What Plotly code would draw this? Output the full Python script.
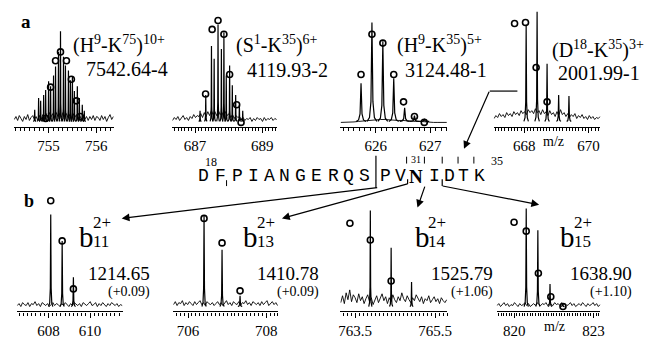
import numpy as np
import plotly.graph_objects as go

W, H = 651, 339

# ---------------- DATA ----------------
# Panel a1: (H9-K75)10+
p1_mz = [754.708, 754.79, 754.833, 754.896, 754.938, 755.0, 755.042, 755.104, 755.146, 755.208, 755.25,
         755.313, 755.354, 755.417, 755.458, 755.5, 755.542, 755.604, 755.646, 755.708, 755.75]
p1_int = [0.13, 0.25, 0.22, 0.28, 0.33, 0.42, 0.37, 0.48, 0.57, 0.72, 0.93,
          0.67, 0.58, 0.53, 0.43, 0.47, 0.32, 0.37, 0.25, 0.18, 0.12]
p1_iso_mz = [754.938, 755.042, 755.146, 755.25, 755.375, 755.479, 755.583, 755.667]
p1_iso_int = [0.04, 0.36, 0.63, 0.72, 0.63, 0.44, 0.22, 0.06]
p1_noise = [0.03, 0.06, 0.02, 0.07, 0.04, 0.01, 0.06, 0.03, 0.08, 0.02, 0.05, 0.07, 0.03, 0.06, 0.02, 0.07,
            0.03, 0.08, 0.04, 0.09, 0.05, 0.10, 0.06, 0.09, 0.05, 0.10, 0.06, 0.09, 0.05, 0.10, 0.06, 0.09,
            0.05, 0.08, 0.04, 0.09, 0.05, 0.08, 0.04, 0.07, 0.03, 0.07, 0.03, 0.06, 0.02, 0.06, 0.03, 0.07,
            0.02, 0.06, 0.05, 0.02, 0.07, 0.03, 0.06, 0.01, 0.05, 0.08, 0.03, 0.06]

# Panel a2: (S1-K35)6+
p2_mz = [687.15, 687.32, 687.49, 687.57, 687.685, 687.785, 687.86, 687.93, 688.03, 688.11, 688.21, 688.32, 688.42]
p2_int = [0.12, 0.28, 0.78, 0.65, 1.0, 0.75, 0.92, 0.48, 0.58, 0.38, 0.28, 0.18, 0.12]
p2_iso_mz = [687.315, 687.51, 687.685, 687.86, 688.03, 688.24, 688.37]
p2_iso_int = [0.29, 0.95, 1.04, 0.90, 0.49, 0.18, 0.0]
p2_noise = [0.02, 0.05, 0.03, 0.06, 0.02, 0.04, 0.07, 0.03, 0.05, 0.02, 0.06, 0.04, 0.08, 0.05, 0.07, 0.06,
            0.09, 0.05, 0.10, 0.06, 0.11, 0.07, 0.12, 0.08, 0.11, 0.07, 0.12, 0.08, 0.10, 0.06, 0.11, 0.07,
            0.09, 0.05, 0.08, 0.04, 0.07, 0.05, 0.06, 0.03, 0.05, 0.02, 0.04, 0.03, 0.05, 0.01, 0.04, 0.02,
            0.05, 0.03, 0.04, 0.01, 0.05, 0.02, 0.04, 0.03, 0.05, 0.02, 0.04, 0.03]

# Panel a3: (H9-K35)5+
p3_mz = [625.73, 625.93, 626.13, 626.33, 626.53, 626.71, 626.89]
p3_int = [0.40, 1.02, 0.83, 0.45, 0.15, 0.07, 0.03]
p3_iso_mz = [625.73, 625.93, 626.13, 626.33, 626.51, 626.71, 626.89]
p3_iso_int = [0.49, 0.90, 0.81, 0.49, 0.21, 0.06, 0.0]
p3_noise = [0.0, 0.0, 0.0, 0.005, 0.01, 0.015, 0.02, 0.025, 0.03, 0.03, 0.03, 0.025, 0.025,
            0.02, 0.02, 0.015, 0.015, 0.01, 0.01, 0.005, 0.005, 0.0, 0.0, 0.0, 0.0]

# Panel a4: (D18-K35)3+
p4_mz = [668.06, 668.40, 668.71, 669.07, 669.39]
p4_int = [1.0, 1.13, 0.60, 0.28, 0.27]
p4_iso_mz = [667.70, 668.04, 668.37, 668.71]
p4_iso_int = [1.01, 1.02, 0.56, 0.21]
p4_noise = [0.04, 0.07, 0.05, 0.09, 0.06, 0.08, 0.05, 0.10, 0.07, 0.09, 0.06, 0.11, 0.08, 0.10, 0.07, 0.12,
            0.09, 0.11, 0.08, 0.13, 0.10, 0.12, 0.09, 0.14, 0.10, 0.12, 0.08, 0.13, 0.09, 0.11, 0.07, 0.12,
            0.08, 0.10, 0.06, 0.11, 0.07, 0.13, 0.08, 0.10, 0.06, 0.09, 0.05, 0.08, 0.06, 0.09, 0.04, 0.07,
            0.05, 0.08, 0.04, 0.06, 0.03, 0.07, 0.04, 0.06, 0.03, 0.05, 0.04, 0.06]

# Panel b1: b11 2+
p5_mz = [608.11, 608.66, 609.20]
p5_int = [0.95, 0.68, 0.31]
p5_iso_mz = [608.11, 608.66, 609.20]
p5_iso_int = [1.09, 0.68, 0.19]
p5_noise = [0.02, 0.04, 0.01, 0.05, 0.03, 0.02, 0.05, 0.01, 0.04, 0.03, 0.06, 0.02, 0.04, 0.01, 0.05, 0.03,
            0.02, 0.04, 0.01, 0.03, 0.05, 0.02, 0.04, 0.03, 0.01, 0.04, 0.02, 0.05, 0.03, 0.01, 0.04, 0.02,
            0.05, 0.03, 0.02, 0.04, 0.01, 0.05, 0.03, 0.02, 0.04, 0.06, 0.02, 0.03, 0.05, 0.01, 0.04, 0.02,
            0.05, 0.03, 0.01, 0.04, 0.02, 0.05, 0.03, 0.02, 0.04, 0.01, 0.03, 0.02]

# Panel b2: b13 2+
p6_mz = [706.41, 706.87, 707.33]
p6_int = [0.94, 0.59, 0.12]
p6_iso_mz = [706.41, 706.87, 707.33]
p6_iso_int = [0.91, 0.66, 0.17]
p6_noise = [0.03, 0.06, 0.02, 0.05, 0.04, 0.07, 0.02, 0.05, 0.03, 0.06, 0.04, 0.02, 0.06, 0.03, 0.05, 0.07,
            0.03, 0.05, 0.02, 0.06, 0.04, 0.03, 0.05, 0.02, 0.04, 0.06, 0.03, 0.05, 0.02, 0.04, 0.07, 0.03,
            0.05, 0.02, 0.06, 0.04, 0.03, 0.06, 0.02, 0.05, 0.04, 0.07, 0.03, 0.05, 0.02, 0.06, 0.04, 0.03,
            0.05, 0.02, 0.06, 0.03, 0.05, 0.07, 0.02, 0.04, 0.06, 0.03, 0.05, 0.02]

# Panel b3: b14 2+
p7_mz = [763.88, 764.40, 764.91]
p7_int = [0.99, 0.61, 0.26]
p7_iso_mz = [763.37, 763.88, 764.40]
p7_iso_int = [0.86, 0.69, 0.27]
p7_noise = [0.05, 0.12, 0.04, 0.15, 0.08, 0.18, 0.06, 0.13, 0.10, 0.05, 0.14, 0.07, 0.11, 0.04, 0.09, 0.13,
            0.06, 0.10, 0.03, 0.08, 0.12, 0.05, 0.09, 0.14, 0.07, 0.11, 0.04, 0.10, 0.06, 0.13, 0.08, 0.05,
            0.11, 0.07, 0.15, 0.09, 0.06, 0.12, 0.08, 0.05, 0.10, 0.07, 0.13, 0.09, 0.06, 0.11, 0.04, 0.09,
            0.07, 0.12, 0.05, 0.08, 0.11, 0.06, 0.09, 0.04, 0.10, 0.07, 0.05, 0.08]

# Panel b4: b15 2+
p8_mz = [820.45, 820.89, 821.35, 821.82]
p8_int = [1.01, 0.79, 0.24, 0.04]
p8_iso_mz = [819.99, 820.45, 820.91, 821.38, 821.84]
p8_iso_int = [0.87, 0.78, 0.35, 0.11, 0.01]
p8_noise = [0.02, 0.04, 0.01, 0.03, 0.05, 0.02, 0.04, 0.01, 0.03, 0.02, 0.05, 0.03, 0.01, 0.04, 0.02, 0.03,
            0.05, 0.02, 0.04, 0.01, 0.03, 0.04, 0.02, 0.05, 0.03, 0.02, 0.04, 0.03, 0.05, 0.02, 0.04, 0.03,
            0.02, 0.05, 0.03, 0.04, 0.02, 0.05, 0.03, 0.04, 0.02, 0.03, 0.05, 0.02, 0.04, 0.01, 0.03, 0.04,
            0.02, 0.05, 0.03, 0.01, 0.04, 0.02, 0.03, 0.05, 0.02, 0.04, 0.01, 0.03]

# tick labels
p1_ticks, p1_labels = [755, 756], ["755", "756"]
p2_ticks, p2_labels = [687, 689], ["687", "689"]
p3_ticks, p3_labels = [626, 627], ["626", "627"]
p4_ticks, p4_labels = [668, 670], ["668", "670"]
p5_ticks, p5_labels = [608, 610], ["608", "610"]
p6_ticks, p6_labels = [706, 708], ["706", "708"]
p7_ticks, p7_labels = [763.5, 765.5], ["763.5", "765.5"]
p8_ticks, p8_labels = [820, 823], ["820", "823"]

# labels
top_ions = ["(H<sup>9</sup>-K<sup>75</sup>)<sup>10+</sup>", "(S<sup>1</sup>-K<sup>35</sup>)<sup>6+</sup>",
            "(H<sup>9</sup>-K<sup>35</sup>)<sup>5+</sup>", "(D<sup>18</sup>-K<sup>35</sup>)<sup>3+</sup>"]
top_masses = ["7542.64-4", "4119.93-2", "3124.48-1", "2001.99-1"]
b_index = ["11", "13", "14", "15"]
b_masses = ["1214.65", "1410.78", "1525.79", "1638.90"]
b_deltas = ["(+0.09)", "(+0.09)", "(+1.06)", "(+1.10)"]
sequence = ["D", "F", "P", "I", "A", "N", "G", "E", "R", "Q", "S", "P", "V", "N", "I", "D", "T", "K"]

# ---------------- LAYOUT / STYLE ----------------
SERIF = "Liberation Serif"
panels = [
    dict(mz=p1_mz, it=p1_int, imz=p1_iso_mz, iit=p1_iso_int, noise=p1_noise, tv=p1_ticks, tt=p1_labels,
         px=(12, 113), rng=(754.27, 756.37), row=0, hw=0.03, minor=0.1),
    dict(mz=p2_mz, it=p2_int, imz=p2_iso_mz, iit=p2_iso_int, noise=p2_noise, tv=p2_ticks, tt=p2_labels,
         px=(172, 278), rng=(686.32, 689.44), row=0, hw=0.04, minor=0.1),
    dict(mz=p3_mz, it=p3_int, imz=p3_iso_mz, iit=p3_iso_int, noise=p3_noise, tv=p3_ticks, tt=p3_labels,
         px=(342, 450), rng=(625.35, 627.31), row=0, hw=0.09, minor=0.1),
    dict(mz=p4_mz, it=p4_int, imz=p4_iso_mz, iit=p4_iso_int, noise=p4_noise, tv=p4_ticks, tt=p4_labels,
         px=(497, 605), rng=(667.05, 670.37), row=0, hw=0.07, minor=0.1),
    dict(mz=p5_mz, it=p5_int, imz=p5_iso_mz, iit=p5_iso_int, noise=p5_noise, tv=p5_ticks, tt=p5_labels,
         px=(15, 122), rng=(606.48, 611.57), row=1, hw=0.1, minor=0.2),
    dict(mz=p6_mz, it=p6_int, imz=p6_iso_mz, iit=p6_iso_int, noise=p6_noise, tv=p6_ticks, tt=p6_labels,
         px=(173, 279), rng=(705.62, 708.30), row=1, hw=0.055, minor=0.1),
    dict(mz=p7_mz, it=p7_int, imz=p7_iso_mz, iit=p7_iso_int, noise=p7_noise, tv=p7_ticks, tt=p7_labels,
         px=(342, 450), rng=(763.13, 765.80), row=1, hw=0.04, minor=0.1),
    dict(mz=p8_mz, it=p8_int, imz=p8_iso_mz, iit=p8_iso_int, noise=p8_noise, tv=p8_ticks, tt=p8_labels,
         px=(500, 605), rng=(819.33, 823.26), row=1, hw=0.08, minor=0.1),
]
row_dom = [(130, 8, (-0.05, 1.17)), (318, 198, (-0.04, 1.16))]


def fx(p):
    return p / W


def fy(p):
    return 1 - p / H


def peak_path(mz, it, hw):
    xs, ys = [], []
    offs = [-1, -0.5, -0.2, 0, 0.2, 0.5, 1]
    frac = [0, 0.04, 0.2, 1, 0.2, 0.04, 0]
    for m, h in zip(mz, it):
        for o, f in zip(offs, frac):
            xs.append(m + o * hw)
            ys.append(0.01 + f * (h - 0.01))
        xs.append(None)
        ys.append(None)
    return xs, ys


fig = go.Figure()
layout = dict(width=W, height=H, margin=dict(l=0, r=0, t=0, b=0), paper_bgcolor="white",
              plot_bgcolor="rgba(0,0,0,0)", showlegend=False)

for i, p in enumerate(panels):
    k = "" if i == 0 else str(i + 1)
    xa, ya = "x" + k, "y" + k
    bot, top, yr = row_dom[p["row"]]
    layout["xaxis" + k] = dict(
        domain=[fx(p["px"][0]), fx(p["px"][1])], range=list(p["rng"]), anchor=ya,
        showline=True, linecolor="black", linewidth=1.2, ticks="outside", ticklen=5, tickwidth=1,
        tickcolor="black", tickmode="array", tickvals=p["tv"], ticktext=p["tt"],
        tickfont=dict(family=SERIF, size=15, color="black"),
        minor=dict(tickmode="linear", tick0=0, dtick=p["minor"], ticks="outside", ticklen=3,
                   tickwidth=0.8, tickcolor="black", showgrid=False),
        showgrid=False, zeroline=False, fixedrange=True)
    layout["yaxis" + k] = dict(domain=[fy(bot), fy(top)], range=list(yr), anchor=xa, visible=False,
                               showticklabels=False, ticks="", showgrid=False, zeroline=False,
                               fixedrange=True)
    nx = np.linspace(p["rng"][0] + 0.004 * (p["rng"][1] - p["rng"][0]),
                     p["rng"][1] - 0.004 * (p["rng"][1] - p["rng"][0]), len(p["noise"]))
    fig.add_trace(go.Scatter(x=nx, y=p["noise"], mode="lines", line=dict(color="black", width=0.9),
                             xaxis=xa, yaxis=ya, hoverinfo="skip"))
    px_, py_ = peak_path(p["mz"], p["it"], p["hw"])
    fig.add_trace(go.Scatter(x=px_, y=py_, mode="lines", line=dict(color="black", width=1.2),
                             xaxis=xa, yaxis=ya, hoverinfo="skip"))
    fig.add_trace(go.Scatter(x=p["imz"], y=p["iit"], mode="markers", cliponaxis=False,
                             marker=dict(symbol="circle-open", size=6, color="black",
                                         line=dict(width=1.6, color="black")),
                             xaxis=xa, yaxis=ya, hoverinfo="skip"))

ann = []


def text(t, x, y, size, xanchor="left", yanchor="middle", family=SERIF, bold=False):
    if bold:
        t = "<b>" + t + "</b>"
    ann.append(dict(text=t, x=fx(x), y=fy(y), xref="paper", yref="paper", showarrow=False,
                    xanchor=xanchor, yanchor=yanchor, borderpad=0,
                    font=dict(family=family, size=size, color="black")))


text("a", 24, 22, 19, "center", bold=True)
text("b", 27, 205, 18, "center", bold=True)

ion_pos = [(71, 45), (236, 45), (398, 45), (555, 51)]
mass_pos = [(169, 70), (331, 71), (491, 71), (646, 75)]
for t, (x, y) in zip(top_ions, ion_pos):
    text(t, x, y, 20)
for t, (x, y) in zip(top_masses, mass_pos):
    text(t, x, y, 20, "right")

b_x = [77, 243, 416, 563]
mass_r = [151, 321, 497, 638]
for bx, idx, m, d, mr in zip(b_x, b_index, b_masses, b_deltas, mass_r):
    text("b", bx, 242, 29)
    text("2+", bx + 14, 227, 17)
    text(idx, bx + 14, 247, 17)
    text(m, mr, 279, 19, "right")
    text(d, mr, 298, 14, "right")

text("m/z", 557, 144, 14, "center")
text("m/z", 558, 333, 14, "center")

seq_x = [204, 221, 238, 254, 270, 286, 302, 318, 335, 350, 366, 388, 403, 418, 437, 452, 467, 483]
for j, (r, sx) in enumerate(zip(sequence, seq_x)):
    if j == 13:
        text(r, sx, 180, 19, "center", family=SERIF, bold=True)
    else:
        text(r, sx, 180, 18, "center", family="Liberation Mono")
text("18", 211, 165, 12, "center")
text("35", 500, 164, 12, "center")
text("31", 418, 163, 10, "center")

# arrows drawn as line shapes plus a small head from a text-free annotation
shapes = []


def seg(x0, y0, x1, y1, w=1.2):
    shapes.append(dict(type="line", xref="paper", yref="paper", x0=fx(x0), y0=fy(y0), x1=fx(x1), y1=fy(y1),
                       line=dict(color="black", width=w)))


def arrow(tail, head):
    ann.append(dict(text=" ", x=fx(head[0]), y=fy(head[1]), xref="paper", yref="paper",
                    ax=tail[0] - head[0], ay=tail[1] - head[1], axref="pixel", ayref="pixel",
                    showarrow=True, arrowhead=2, arrowsize=1.3, arrowwidth=1.2, arrowcolor="black",
                    standoff=0, startstandoff=0, font=dict(size=1)))


arrow((378, 192), (121, 223))
arrow((410, 188), (283, 223))
arrow((428, 189), (420, 212))
arrow((445, 190), (543, 209))
arrow((493, 93), (467, 152))

seg(378, 159, 378, 192)
seg(493, 93, 521, 93)
seg(410, 183, 410, 188)
seg(445, 183, 445, 190)
seg(227, 184, 227, 190, 1)
for tx in [409, 427, 445, 461, 477]:
    seg(tx, 160, tx, 167, 1)

layout["annotations"] = ann
layout["shapes"] = shapes
fig.update_layout(**layout)
fig.write_html("out.html")
